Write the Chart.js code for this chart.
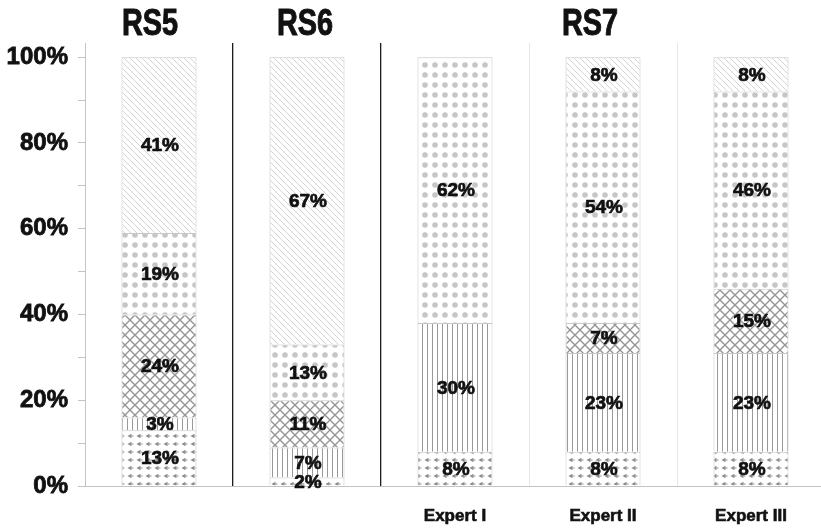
<!DOCTYPE html>
<html>
<head>
<meta charset="utf-8">
<script src="https://cdn.jsdelivr.net/npm/chart.js@4.4.1/dist/chart.umd.min.js"></script>
<style>
  html, body { margin: 0; padding: 0; background: #fff; overflow: hidden; }
  #wrap { position: relative; width: 825px; height: 529px; }
</style>
</head>
<body>
<div id="wrap"><canvas id="chart"></canvas></div>
<script>
// Data (percent of each column, bottom segment first)
const categories = ['RS5', 'RS6', 'Expert I', 'Expert II', 'Expert III'];
const bottomLabels = ['', '', 'Expert I', 'Expert II', 'Expert III'];
const arrowShare = [13, 2, 8, 8, 8];
const stripeShare = [3, 7, 30, 23, 23];
const crossShare = [24, 11, 0, 7, 15];
const dotShare = [19, 13, 62, 54, 46];
const diagonalShare = [41, 67, 0, 8, 8];

// Group headers over the columns
const groupNames = ['RS5', 'RS6', 'RS7'];
const groupFirst = [0, 1, 2];
const groupLast = [0, 1, 4];
const groupShift = [-9, -2, -13];

// Small tile patterns
function makeTile(w, h, draw) {
  const c = document.createElement('canvas');
  c.width = w;
  c.height = h;
  const g = c.getContext('2d');
  g.fillStyle = '#fff';
  g.fillRect(0, 0, w, h);
  draw(g);
  return document.createElement('canvas').getContext('2d').createPattern(c, 'repeat');
}

const arrowPattern = makeTile(9, 8, g => {
  g.fillStyle = '#8c8c8c';
  g.beginPath();
  g.moveTo(1.5, 4);
  g.lineTo(5.5, 1.8);
  g.lineTo(5.5, 6.2);
  g.closePath();
  g.fill();
  g.fillRect(5.5, 3.5, 2, 1);
});

const stripePattern = makeTile(5, 4, g => {
  g.fillStyle = '#999';
  g.fillRect(2, 0, 1, 4);
});

const crossPattern = makeTile(10, 10, g => {
  g.strokeStyle = '#959595';
  g.lineWidth = 1.4;
  g.beginPath();
  g.moveTo(-1, -1); g.lineTo(11, 11);
  g.moveTo(11, -1); g.lineTo(-1, 11);
  g.stroke();
});

const dotPattern = makeTile(10, 10, g => {
  g.fillStyle = '#c6c6c6';
  g.beginPath();
  g.arc(5, 5, 2.8, 0, Math.PI * 2);
  g.fill();
});

const diagonalPattern = makeTile(6, 6, g => {
  g.strokeStyle = '#d4d4d4';
  g.lineWidth = 1;
  g.beginPath();
  g.moveTo(-1, -1); g.lineTo(7, 7);
  g.moveTo(-1, 5); g.lineTo(1, 7);
  g.moveTo(5, -1); g.lineTo(7, 1);
  g.stroke();
});

// Percent labels in the middle of each segment
const segmentLabels = {
  id: 'segmentLabels',
  afterDatasetsDraw(chart) {
    const ctx = chart.ctx;
    ctx.save();
    ctx.font = 'bold 19px "Liberation Sans", Arial, sans-serif';
    ctx.fillStyle = '#111';
    ctx.strokeStyle = '#111';
    ctx.lineWidth = 0.7;
    ctx.textAlign = 'center';
    ctx.textBaseline = 'middle';
    chart.data.datasets.forEach((ds, i) => {
      chart.getDatasetMeta(i).data.forEach((bar, j) => {
        const v = ds.data[j];
        if (!v) return;
        const y = (bar.y + bar.base) / 2 + 1;
        ctx.fillText(v + '%', bar.x + 1, y);
        ctx.strokeText(v + '%', bar.x + 1, y);
      });
    });
    ctx.restore();
  }
};

// RS5 / RS6 / RS7 headers, squeezed to a condensed look
const groupHeaders = {
  id: 'groupHeaders',
  afterDraw(chart) {
    const ctx = chart.ctx;
    const x = chart.scales.x;
    ctx.save();
    ctx.font = 'bold 37px "Liberation Sans", Arial, sans-serif';
    ctx.fillStyle = '#111';
    ctx.strokeStyle = '#111';
    ctx.lineWidth = 1;
    ctx.textAlign = 'center';
    ctx.textBaseline = 'alphabetic';
    groupNames.forEach((name, i) => {
      const mid = (x.getPixelForValue(groupFirst[i]) + x.getPixelForValue(groupLast[i])) / 2;
      ctx.save();
      ctx.translate(mid + groupShift[i], 35);
      ctx.scale(0.78, 1);
      ctx.fillText(name, 0, 0);
      ctx.strokeText(name, 0, 0);
      ctx.restore();
    });
    ctx.restore();
  }
};

const chart = new Chart(document.getElementById('chart'), {
  type: 'bar',
  data: {
    labels: categories,
    datasets: [
      { label: 'a', data: arrowShare, backgroundColor: arrowPattern },
      { label: 'b', data: stripeShare, backgroundColor: stripePattern },
      { label: 'c', data: crossShare, backgroundColor: crossPattern },
      { label: 'd', data: dotShare, backgroundColor: dotPattern },
      { label: 'e', data: diagonalShare, backgroundColor: diagonalPattern }
    ]
  },
  options: {
    responsive: true,
    maintainAspectRatio: false,
    animation: false,
    layout: { padding: { top: 43, left: 0, right: 0, bottom: 0 } },
    datasets: {
      bar: {
        barPercentage: 0.507,
        categoryPercentage: 1,
        borderColor: '#c8c8c8',
        borderWidth: 1
      }
    },
    plugins: {
      legend: { display: false },
      tooltip: { enabled: false }
    },
    scales: {
      x: {
        stacked: true,
        afterFit: s => { s.height = 43; },
        border: { color: '#c4c4c4' },
        grid: {
          offset: true,
          drawTicks: false,
          color: c => (c.index === 1 || c.index === 2) ? '#1a1a1a' : (c.index === 0 ? 'rgba(0,0,0,0)' : '#e6e6e6'),
          lineWidth: c => (c.index === 1 || c.index === 2) ? 1.3 : 1
        },
        ticks: {
          padding: 20,
          color: '#111',
          textStrokeColor: '#111',
          textStrokeWidth: 0.6,
          font: { family: '"Liberation Sans", Arial, sans-serif', size: 17, weight: 'bold' },
          callback: (v, i) => bottomLabels[i]
        }
      },
      y: {
        stacked: true,
        min: 0,
        max: 103.3,
        afterFit: s => { s.width = 85; },
        border: { color: '#c4c4c4' },
        grid: {
          drawOnChartArea: false,
          tickLength: 7,
          color: '#c4c4c4'
        },
        ticks: {
          stepSize: 10,
          includeBounds: false,
          padding: 10,
          color: '#111',
          textStrokeColor: '#111',
          textStrokeWidth: 0.8,
          font: { family: '"Liberation Sans", Arial, sans-serif', size: 24, weight: 'bold' },
          callback: v => (v % 20 === 0 ? v + '%' : '')
        }
      }
    }
  },
  plugins: [segmentLabels, groupHeaders]
});
</script>
</body>
</html>
